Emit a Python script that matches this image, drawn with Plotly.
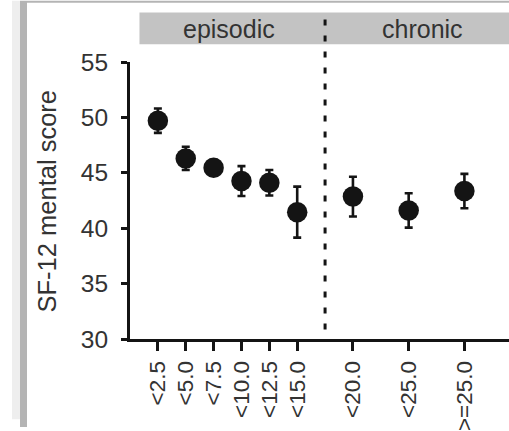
import plotly.graph_objects as go

# ---- data ----
categories = ["<2.5", "<5.0", "<7.5", "<10.0", "<12.5", "<15.0", "<20.0", "<25.0", ">=25.0"]
groups = ["episodic"] * 6 + ["chronic"] * 3
means = [49.7, 46.3, 45.45, 44.25, 44.1, 41.45, 42.85, 41.6, 43.35]
errors = [1.1, 1.05, 0.7, 1.35, 1.15, 2.3, 1.8, 1.55, 1.55]
y_ticks = [30, 35, 40, 45, 50, 55]
group_names = ["episodic", "chronic"]
y_title = "SF-12 mental score"

# ---- positions: episodic categories 1 apart, chronic categories 2 apart ----
positions = []
p = 0
for g in groups:
    p += 1 if g == "episodic" else 2
    positions.append(p)
last_epi = max(pp for pp, g in zip(positions, groups) if g == "episodic")
first_chr = min(pp for pp, g in zip(positions, groups) if g == "chronic")
divider = (last_epi + first_chr) / 2

W, H = 509, 431
ML, MR, MT, MB = 130, 0, 62, 89
XR = [0, 13.6]
YR = [30, 55]
PW = W - ML - MR
PH = H - MT - MB

def px_x(px):
    return (px - ML) / PW

def px_y(py):
    return (H - MB - py) / PH

def dx(v):
    return (v - XR[0]) / (XR[1] - XR[0])

def dy(v):
    return (v - YR[0]) / (YR[1] - YR[0])

FONT = "Liberation Sans, Arial, Helvetica, sans-serif"
INK = "#141414"
TXT = "#333333"

fig = go.Figure()
fig.add_trace(go.Scatter(
    x=positions, y=means, mode="markers",
    marker=dict(size=20.5, color=INK, line=dict(width=0)),
    error_y=dict(type="data", array=errors, visible=True, color=INK,
                 thickness=2.6, width=4),
    showlegend=False, hoverinfo="skip",
))

shapes = []
# frame decorations (left / top gray bars)
shapes.append(dict(type="rect", xref="paper", yref="paper", layer="below",
                   x0=px_x(12), x1=px_x(20), y0=px_y(423), y1=px_y(0),
                   fillcolor="#eeeeee", line=dict(width=0)))
shapes.append(dict(type="rect", xref="paper", yref="paper", layer="below",
                   x0=px_x(20), x1=px_x(27), y0=px_y(431), y1=px_y(0),
                   fillcolor="#b4b4b4", line=dict(width=0)))
shapes.append(dict(type="rect", xref="paper", yref="paper", layer="below",
                   x0=px_x(27), x1=px_x(509), y0=px_y(2), y1=px_y(0),
                   fillcolor="#b4b4b4", line=dict(width=0)))
# header strip
shapes.append(dict(type="rect", xref="paper", yref="paper", layer="below",
                   x0=dx(0.34), x1=1.0, y0=px_y(44), y1=px_y(12),
                   fillcolor="#c3c3c3", line=dict(width=0)))
# dashed divider
shapes.append(dict(type="line", xref="paper", yref="paper", layer="above",
                   x0=dx(divider), x1=dx(divider), y0=dy(30.85), y1=px_y(16),
                   line=dict(color=INK, width=3, dash="6px,10px")))

annotations = [
    dict(text=group_names[0], xref="paper", yref="paper", x=dx(3.55), y=px_y(29),
         showarrow=False, font=dict(family=FONT, size=25, color=TXT),
         xanchor="center", yanchor="middle"),
    dict(text=group_names[1], xref="paper", yref="paper", x=dx(10.5), y=px_y(29),
         showarrow=False, font=dict(family=FONT, size=25, color=TXT),
         xanchor="center", yanchor="middle"),
    dict(text=y_title, xref="paper", yref="paper", x=px_x(47), y=px_y(203), textangle=-90,
         showarrow=False, font=dict(family=FONT, size=25.5, color=TXT),
         xanchor="center", yanchor="middle"),
]

fig.update_layout(
    width=W, height=H,
    margin=dict(l=ML, r=MR, t=MT, b=MB, pad=0),
    paper_bgcolor="white", plot_bgcolor="white",
    shapes=shapes, annotations=annotations,
    font=dict(family=FONT, color=TXT),
    xaxis=dict(range=XR, tickvals=positions, ticktext=categories, tickangle=-90,
               showgrid=False, zeroline=False, showline=True, linecolor=INK,
               linewidth=3, ticks="outside", ticklen=9, tickwidth=2.5,
               tickcolor=INK, tickfont=dict(family=FONT, size=22.5, color=TXT),
               ticklabelstandoff=1),
    yaxis=dict(range=YR, tickvals=y_ticks, showgrid=False, zeroline=False,
               showline=True, linecolor=INK, linewidth=3, ticks="outside",
               ticklen=6, tickwidth=2.5, tickcolor=INK,
               tickfont=dict(family=FONT, size=24.5, color=TXT),
               ticklabelstandoff=8),
)

fig.write_html("out.html", config={"displayModeBar": False},
               post_script="document.body.style.margin='0';document.body.style.overflow='hidden';")
